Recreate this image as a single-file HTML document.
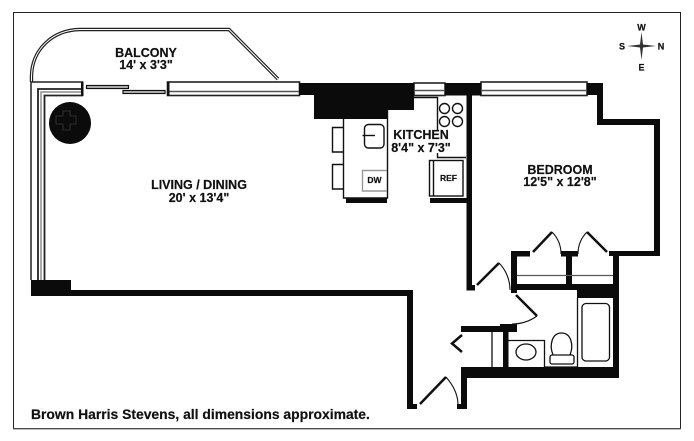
<!DOCTYPE html>
<html>
<head>
<meta charset="utf-8">
<style>
html,body{margin:0;padding:0;background:#fff;width:694px;height:441px;overflow:hidden}
svg{display:block}
text{font-family:"Liberation Sans",Arial,sans-serif;font-weight:bold;fill:#111;stroke:#111;stroke-width:0.2;text-anchor:middle}
</style>
</head>
<body>
<svg width="694" height="441" viewBox="0 0 694 441" xmlns="http://www.w3.org/2000/svg">
<rect x="13.5" y="12.5" width="667" height="416" fill="#fff" stroke="#222" stroke-width="1"/>
<path d="M13 429H681" stroke="#777" stroke-width="1"/>

<!-- balcony -->
<path d="M31.5 82V76C32 50 52 30 80 29.5H229L278 79" fill="none" stroke="#222" stroke-width="3.400"/>
<path d="M31.5 82V76C32 50 52 30 80 29.5H229L278 79" fill="none" stroke="#fff" stroke-width="1"/>

<!-- left corner window -->
<g fill="none" stroke="#222">
<path d="M31 280V82H82.5V95" stroke-width="1.500"/>
<path d="M38 280V89H82" stroke-width="1.800"/>
<path d="M41 280V92H82" stroke-width="1.400" stroke="#888"/>
<path d="M44.5 280V95.500H83" stroke-width="1.800"/>
</g>
<rect x="81" y="82" width="2.500" height="14" fill="#111"/>

<!-- sliders -->
<rect x="86.500" y="85.500" width="42" height="3" fill="#bbb" stroke="#111" stroke-width="1.200"/>
<rect x="123" y="90.500" width="42" height="3" fill="#bbb" stroke="#111" stroke-width="1.200"/>

<!-- windows -->
<g fill="#fff" stroke="#222" stroke-width="1.600">
<rect x="167.500" y="82" width="132" height="13.500"/>
<rect x="414" y="83" width="31" height="12.500"/>
<rect x="481" y="82" width="106" height="13.500"/>
</g>
<g stroke="#555" stroke-width="1.600">
<path d="M168 91.500H299M414 90.500H445M481 90.500H587"/>
</g>
<rect x="167" y="82" width="2.500" height="14" fill="#111"/>

<!-- solid walls -->
<g fill="#0b0b0b">
<path d="M299 83H414V110H387V119H314V95H299Z"/>
<rect x="445" y="83" width="36" height="12.500"/>
<rect x="466.500" y="83" width="5.500" height="207"/>
<rect x="466.500" y="285" width="8.500" height="5.500"/>
<path d="M587 83H603V119H660V256H609V251H654V125H597V95H587Z"/>
<rect x="511" y="251" width="19" height="5.500"/>
<rect x="561" y="251" width="17" height="5.500"/>
<rect x="566" y="251" width="6" height="35"/>
<rect x="511" y="251" width="6" height="42"/>
<rect x="613" y="251" width="6" height="127"/>
<rect x="511" y="284" width="108" height="6"/>
<rect x="577" y="284" width="42" height="14"/>
<rect x="461" y="326" width="56" height="6"/>
<rect x="500" y="324" width="17" height="8"/>
<rect x="503" y="330" width="5.500" height="40"/>
<rect x="461" y="367" width="158" height="11"/>
<rect x="461" y="367" width="6" height="41"/>
<rect x="457" y="404" width="10" height="5"/>
<rect x="407" y="290" width="6" height="119"/>
<rect x="407" y="404" width="10" height="5"/>
<rect x="31" y="290" width="382" height="6"/>
<rect x="31" y="280" width="40" height="16"/>
<rect x="346" y="198" width="41" height="5"/>
<rect x="430" y="198" width="37" height="5"/>
</g>

<!-- pillar -->
<circle cx="70" cy="123" r="21" fill="#0b0b0b"/>
<path d="M63 111h7v5h6v8h-6v6h-7v-6h-7v-8h7z" fill="none" stroke="#3a3a3a" stroke-width="0.8"/>

<!-- kitchen -->
<g fill="none" stroke="#111" stroke-width="1.400">
<path d="M343.500 119V198H387.500V110"/>
<path d="M343 127.500H332.500V152H343M343 164.500H332.500V189H343"/>
<rect x="364.500" y="124.500" width="19.500" height="23.500" rx="4"/>
<path d="M362.500 135.500H375"/>
<path d="M414 97.500H437.500V130M437.500 153V157.500H466"/>
<circle cx="444.500" cy="108.500" r="5"/>
<circle cx="457.500" cy="108.500" r="5"/>
<circle cx="444.500" cy="121.500" r="5"/>
<circle cx="457.500" cy="121.500" r="5"/>
<rect x="429.500" y="160.500" width="33.500" height="35.500"/>
<path d="M433.500 160.500V196"/>
</g>
<path d="M387 170.500H362.500V191H387" fill="none" stroke="#999" stroke-width="1.400"/>

<!-- closet -->
<path d="M517 275.500H613" stroke="#555" stroke-width="1.300"/>
<g fill="none" stroke="#111" stroke-width="2.500">
<path d="M533 252L552 232M607 252L587 232M477 285L499 263M516 295L537 316M420 404L446 377M462 335L452 343.500L462 352"/>
</g>
<g fill="none" stroke="#111" stroke-width="1.100">
<path d="M552 232C558 238 561 245 561 254"/>
<path d="M587 232C581 238 578 245 578 254"/>
<path d="M499 263C506 270 510 280 510 290"/>
<path d="M537 316C530 321 521 324 512 324"/>
<path d="M446 377C453 385 458 394 458 405"/>
</g>

<!-- bath -->
<g fill="none" stroke="#111" stroke-width="1.300">
<path d="M492 332V367"/>
<path d="M508.500 340.500H544.500V367"/>
<ellipse cx="526" cy="352" rx="10" ry="8"/>
<path d="M577.500 298V367"/>
<rect x="582" y="303.500" width="27.500" height="57.500" rx="4"/>
<rect x="550" y="355" width="24" height="9" rx="2"/>
<path d="M553 355C549 345 552 333 561.500 333C571 333 574 345 570 355"/>
<path d="M544 367H577"/>
</g>

<!-- labels -->
<text x="146" y="57" font-size="12.500">BALCONY</text>
<text x="146" y="69" font-size="12.500">14' x 3'3"</text>
<text x="199" y="189" font-size="12.500">LIVING / DINING</text>
<text x="199" y="202" font-size="12.500">20' x 13'4"</text>
<text x="421" y="139" font-size="12.500">KITCHEN</text>
<text x="421" y="152" font-size="12.500">8'4" x 7'3"</text>
<text x="560" y="174" font-size="12.500">BEDROOM</text>
<text x="560" y="186" font-size="12.500">12'5" x 12'8"</text>
<text x="374.500" y="183" font-size="8.500">DW</text>
<text x="448.500" y="181" font-size="8.500">REF</text>
<text x="31" y="419" font-size="13.900" style="text-anchor:start">Brown Harris Stevens, all dimensions approximate.</text>

<!-- compass -->
<path d="M641.500 32L643 44.500L656 46L643 47.500L641.500 60L640 47.500L627 46L640 44.500Z" fill="#333"/>
<text x="641.500" y="30.500" font-size="9">W</text>
<text x="641.500" y="70.500" font-size="9">E</text>
<text x="622" y="49.500" font-size="9">S</text>
<text x="661" y="49.500" font-size="9">N</text>
</svg>
</body>
</html>
